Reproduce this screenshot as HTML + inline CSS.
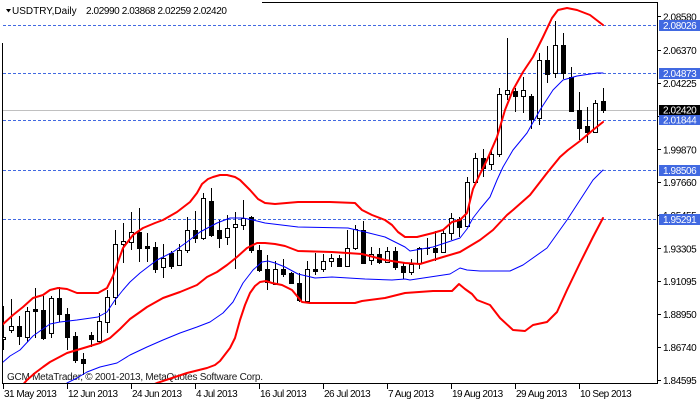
<!DOCTYPE html>
<html>
<head>
<meta charset="utf-8">
<style>
html,body{margin:0;padding:0;background:#fff;}
svg{display:block;}
text{font-family:"Liberation Sans",Arial,sans-serif;font-size:10px;}
.ax{letter-spacing:-0.4px;fill:#000;}
.dt{letter-spacing:-0.5px;fill:#000;}
.bx{letter-spacing:-0.4px;fill:#fff;}
</style>
</head>
<body>
<svg width="700" height="402" viewBox="0 0 700 402" xmlns="http://www.w3.org/2000/svg">
<defs>
<clipPath id="plot"><rect x="3" y="3" width="654" height="380"/></clipPath>
</defs>
<rect x="0" y="0" width="700" height="402" fill="#fff"/>

<!-- horizontal lines -->
<g shape-rendering="crispEdges">
<line x1="3" y1="25.5" x2="657" y2="25.5" stroke="#4169E1" stroke-width="1" stroke-dasharray="3,2"/>
<line x1="3" y1="73.5" x2="657" y2="73.5" stroke="#4169E1" stroke-width="1" stroke-dasharray="3,2"/>
<line x1="3" y1="120.5" x2="657" y2="120.5" stroke="#4169E1" stroke-width="1" stroke-dasharray="3,2"/>
<line x1="3" y1="170.5" x2="657" y2="170.5" stroke="#4169E1" stroke-width="1" stroke-dasharray="3,2"/>
<line x1="3" y1="219.5" x2="657" y2="219.5" stroke="#4169E1" stroke-width="1" stroke-dasharray="3,2"/>
<line x1="3" y1="110.5" x2="657" y2="110.5" stroke="#C0C0C0" stroke-width="1"/>
</g>

<!-- watermark -->
<text x="7" y="380" fill="#1a1a1a" textLength="256" lengthAdjust="spacing">GCM MetaTrader, © 2001-2013, MetaQuotes Software Corp.</text>

<!-- candles -->
<g clip-path="url(#plot)" shape-rendering="crispEdges">
<g fill="#000">
<rect x="3" y="306" width="1" height="44"/><rect x="1" y="337" width="5" height="3"/>
<rect x="11" y="299" width="1" height="34"/><rect x="9" y="326" width="5" height="5"/>
<rect x="19" y="316" width="1" height="29"/><rect x="17" y="326" width="5" height="11"/>
<rect x="27" y="307" width="1" height="35"/><rect x="25" y="311" width="5" height="27"/>
<rect x="35" y="288" width="1" height="50"/><rect x="33" y="309" width="5" height="3"/>
<rect x="43" y="296" width="1" height="44"/><rect x="41" y="310" width="5" height="29"/>
<rect x="51" y="296" width="1" height="42"/><rect x="49" y="298" width="5" height="36"/>
<rect x="59" y="287" width="1" height="35"/><rect x="57" y="298" width="5" height="17"/>
<rect x="67" y="308" width="1" height="42"/><rect x="65" y="314" width="5" height="24"/>
<rect x="75" y="332" width="1" height="31"/><rect x="73" y="336" width="5" height="25"/>
<rect x="83" y="353" width="1" height="22"/><rect x="81" y="359" width="5" height="5"/>
<rect x="91" y="332" width="1" height="15"/><rect x="89" y="335" width="5" height="5"/>
<rect x="99" y="313" width="1" height="30"/><rect x="97" y="321" width="5" height="21"/>
<rect x="107" y="290" width="1" height="43"/><rect x="105" y="297" width="5" height="26"/>
<rect x="115" y="230" width="1" height="75"/><rect x="113" y="244" width="5" height="54"/>
<rect x="123" y="223" width="1" height="40"/><rect x="121" y="241" width="5" height="4"/>
<rect x="131" y="212" width="1" height="38"/><rect x="129" y="232" width="5" height="11"/>
<rect x="139" y="208" width="1" height="54"/><rect x="137" y="232" width="5" height="17"/>
<rect x="147" y="233" width="1" height="29"/><rect x="145" y="246" width="5" height="3"/>
<rect x="155" y="242" width="1" height="31"/><rect x="153" y="247" width="5" height="23"/>
<rect x="163" y="244" width="1" height="34"/><rect x="161" y="258" width="5" height="10"/>
<rect x="171" y="251" width="1" height="18"/><rect x="169" y="253" width="5" height="14"/>
<rect x="179" y="244" width="1" height="22"/><rect x="177" y="250" width="5" height="16"/>
<rect x="187" y="217" width="1" height="36"/><rect x="185" y="230" width="5" height="21"/>
<rect x="195" y="211" width="1" height="32"/><rect x="193" y="230" width="5" height="9"/>
<rect x="203" y="193" width="1" height="47"/><rect x="201" y="198" width="5" height="41"/>
<rect x="211" y="188" width="1" height="49"/><rect x="209" y="201" width="5" height="35"/>
<rect x="219" y="220" width="1" height="28"/><rect x="217" y="230" width="5" height="9"/>
<rect x="227" y="215" width="1" height="30"/><rect x="225" y="228" width="5" height="10"/>
<rect x="235" y="212" width="1" height="57"/><rect x="233" y="224" width="5" height="4"/>
<rect x="243" y="200" width="1" height="30"/><rect x="241" y="218" width="5" height="8"/>
<rect x="251" y="216" width="1" height="37"/><rect x="249" y="217" width="5" height="34"/>
<rect x="259" y="245" width="1" height="27"/><rect x="257" y="250" width="5" height="21"/>
<rect x="267" y="255" width="1" height="35"/><rect x="265" y="269" width="5" height="14"/>
<rect x="275" y="261" width="1" height="24"/><rect x="273" y="269" width="5" height="16"/>
<rect x="283" y="259" width="1" height="18"/><rect x="281" y="269" width="5" height="6"/>
<rect x="291" y="272" width="1" height="12"/><rect x="289" y="273" width="5" height="11"/>
<rect x="299" y="273" width="1" height="29"/><rect x="297" y="283" width="5" height="18"/>
<rect x="307" y="261" width="1" height="41"/><rect x="305" y="269" width="5" height="33"/>
<rect x="315" y="253" width="1" height="22"/><rect x="313" y="269" width="5" height="3"/>
<rect x="323" y="254" width="1" height="18"/><rect x="321" y="261" width="5" height="9"/>
<rect x="331" y="254" width="1" height="13"/><rect x="329" y="258" width="5" height="4"/>
<rect x="339" y="255" width="1" height="12"/><rect x="337" y="258" width="5" height="9"/>
<rect x="347" y="230" width="1" height="37"/><rect x="345" y="248" width="5" height="19"/>
<rect x="355" y="225" width="1" height="25"/><rect x="353" y="229" width="5" height="20"/>
<rect x="363" y="221" width="1" height="43"/><rect x="361" y="230" width="5" height="34"/>
<rect x="371" y="247" width="1" height="18"/><rect x="369" y="254" width="5" height="7"/>
<rect x="379" y="248" width="1" height="16"/><rect x="377" y="254" width="5" height="9"/>
<rect x="387" y="247" width="1" height="16"/><rect x="385" y="251" width="5" height="12"/>
<rect x="395" y="247" width="1" height="23"/><rect x="393" y="251" width="5" height="17"/>
<rect x="403" y="262" width="1" height="17"/><rect x="401" y="266" width="5" height="7"/>
<rect x="411" y="259" width="1" height="16"/><rect x="409" y="264" width="5" height="9"/>
<rect x="419" y="247" width="1" height="22"/><rect x="417" y="248" width="5" height="16"/>
<rect x="427" y="238" width="1" height="17"/><rect x="425" y="248" width="5" height="1"/>
<rect x="435" y="231" width="1" height="30"/><rect x="433" y="248" width="5" height="5"/>
<rect x="443" y="230" width="1" height="23"/><rect x="441" y="233" width="5" height="20"/>
<rect x="451" y="213" width="1" height="27"/><rect x="449" y="218" width="5" height="16"/>
<rect x="459" y="217" width="1" height="20"/><rect x="457" y="219" width="5" height="9"/>
<rect x="467" y="177" width="1" height="50"/><rect x="465" y="182" width="5" height="45"/>
<rect x="475" y="153" width="1" height="30"/><rect x="473" y="158" width="5" height="25"/>
<rect x="483" y="149" width="1" height="28"/><rect x="481" y="158" width="5" height="11"/>
<rect x="491" y="149" width="1" height="21"/><rect x="489" y="154" width="5" height="11"/>
<rect x="499" y="88" width="1" height="69"/><rect x="497" y="94" width="5" height="61"/>
<rect x="507" y="38" width="1" height="62"/><rect x="505" y="90" width="5" height="5"/>
<rect x="515" y="88" width="1" height="24"/><rect x="513" y="91" width="5" height="6"/>
<rect x="523" y="77" width="1" height="36"/><rect x="521" y="90" width="5" height="7"/>
<rect x="531" y="94" width="1" height="35"/><rect x="529" y="96" width="5" height="24"/>
<rect x="539" y="53" width="1" height="72"/><rect x="537" y="60" width="5" height="59"/>
<rect x="547" y="46" width="1" height="37"/><rect x="545" y="60" width="5" height="15"/>
<rect x="555" y="21" width="1" height="57"/><rect x="553" y="45" width="5" height="29"/>
<rect x="563" y="33" width="1" height="46"/><rect x="561" y="45" width="5" height="29"/>
<rect x="571" y="67" width="1" height="45"/><rect x="569" y="77" width="5" height="35"/>
<rect x="579" y="92" width="1" height="48"/><rect x="577" y="110" width="5" height="19"/>
<rect x="587" y="107" width="1" height="36"/><rect x="585" y="126" width="5" height="7"/>
<rect x="595" y="100" width="1" height="33"/><rect x="593" y="103" width="5" height="30"/>
<rect x="603" y="88" width="1" height="25"/><rect x="601" y="101" width="5" height="10"/>
</g>
<g fill="#fff">
<rect x="2" y="338" width="3" height="1"/>
<rect x="10" y="327" width="3" height="3"/>
<rect x="26" y="312" width="3" height="25"/>
<rect x="50" y="299" width="3" height="34"/>
<rect x="98" y="322" width="3" height="19"/>
<rect x="106" y="298" width="3" height="24"/>
<rect x="114" y="245" width="3" height="52"/>
<rect x="122" y="242" width="3" height="2"/>
<rect x="130" y="233" width="3" height="9"/>
<rect x="162" y="259" width="3" height="8"/>
<rect x="178" y="251" width="3" height="14"/>
<rect x="186" y="231" width="3" height="19"/>
<rect x="202" y="199" width="3" height="39"/>
<rect x="226" y="229" width="3" height="8"/>
<rect x="234" y="225" width="3" height="2"/>
<rect x="242" y="219" width="3" height="6"/>
<rect x="274" y="270" width="3" height="14"/>
<rect x="306" y="270" width="3" height="31"/>
<rect x="322" y="262" width="3" height="7"/>
<rect x="330" y="259" width="3" height="2"/>
<rect x="346" y="249" width="3" height="17"/>
<rect x="354" y="230" width="3" height="18"/>
<rect x="370" y="255" width="3" height="5"/>
<rect x="386" y="252" width="3" height="10"/>
<rect x="410" y="265" width="3" height="7"/>
<rect x="418" y="249" width="3" height="14"/>
<rect x="442" y="234" width="3" height="18"/>
<rect x="450" y="219" width="3" height="14"/>
<rect x="466" y="183" width="3" height="43"/>
<rect x="474" y="159" width="3" height="23"/>
<rect x="490" y="155" width="3" height="9"/>
<rect x="498" y="95" width="3" height="59"/>
<rect x="506" y="91" width="3" height="3"/>
<rect x="522" y="91" width="3" height="5"/>
<rect x="538" y="61" width="3" height="57"/>
<rect x="554" y="46" width="3" height="27"/>
<rect x="594" y="104" width="3" height="28"/>
</g>
</g>

<!-- bands -->
<g clip-path="url(#plot)" fill="none" stroke-linejoin="round" stroke-linecap="round">
<polyline stroke="#0000FF" stroke-width="1" points="2,363 10,356 20,350 33,336 40,331 50,324 60,322 77,320 98,317 107,312 115,300 123,290 130,282 140,273 157,260 173,252 187,242 200,232 217,223 230,218 243,218 253,220 265,223 298,227 348,228 365,232 385,237 395,242 405,247 410,251 433,247 460,238 467,229 473,218 480,209 490,197 497,180 503,167 513,150 527,133 540,110 553,90 563,80 577,76 597,73 603,73"/>
<polyline stroke="#0000FF" stroke-width="1" points="60,388 67,383 77,378 87,372 100,367 117,363 130,355 147,347 163,340 180,333 197,327 210,322 223,313 233,302 243,283 253,270 262,262 268,261 275,263 285,267 298,274 315,278 332,277 365,279 392,280 405,279 410,280 450,274 460,268 467,270 480,271 510,271 523,265 547,248 567,220 580,200 593,180 603,170"/>
<polyline stroke="#FF0000" stroke-width="2" points="2,325 13,315 23,307 33,298 43,295 50,290 58,288 67,289 77,293 98,293 107,288 113,276 118,262 123,248 133,235 143,228 155,223 163,220 177,212 190,202 197,193 202,184 208,179 213,177 220,175 227,175 235,177 240,180 250,190 258,199 265,203 275,204 298,202 330,202 355,203 362,210 372,215 385,220 392,225 398,232 405,237 417,237 433,233 443,230 452,222 460,220 467,213 473,189 480,174 487,160 497,137 500,127 505,110 513,90 523,72 533,57 543,37 552,18 558,10 567,8 577,10 590,15 603,25"/>
<polyline stroke="#FF0000" stroke-width="2" points="20,388 27,380 35,373 43,367 50,362 67,353 77,350 87,347 100,343 110,338 120,329 130,319 140,312 147,307 163,298 180,292 197,285 207,277 217,272 227,265 237,257 247,248 257,243 265,243 275,244 285,246 298,251 332,252 362,254 385,260 405,263 420,264 443,257 460,252 480,240 493,230 507,215 513,210 530,195 547,173 560,157 568,150 580,141 593,130 603,122"/>
<polyline stroke="#FF0000" stroke-width="2" points="145,388 157,383 187,373 207,368 215,365 220,361 230,348 235,338 240,320 245,305 250,293 255,286 260,282 266,281 272,283 282,285 292,290 302,302 310,303 355,303 362,301 385,298 405,293 433,291 452,291 459,284 465,289 472,294 477,300 490,305 500,318 513,330 525,331 533,325 547,322 557,312 567,290 580,263 593,237 603,218"/>
</g>

<!-- frame -->
<g fill="#000" shape-rendering="crispEdges">
<rect x="2" y="43" width="1" height="341"/>
<rect x="2" y="383" width="656" height="1"/>
<rect x="657" y="2" width="1" height="382"/>
<rect x="262" y="2" width="396" height="1"/>
<!-- right ticks -->
<rect x="658" y="16" width="3" height="1"/>
<rect x="658" y="50" width="3" height="1"/>
<rect x="658" y="83" width="3" height="1"/>
<rect x="658" y="116" width="3" height="1"/>
<rect x="658" y="149" width="3" height="1"/>
<rect x="658" y="182" width="3" height="1"/>
<rect x="658" y="215" width="3" height="1"/>
<rect x="658" y="248" width="3" height="1"/>
<rect x="658" y="281" width="3" height="1"/>
<rect x="658" y="314" width="3" height="1"/>
<rect x="658" y="347" width="3" height="1"/>
<rect x="658" y="380" width="3" height="1"/>
<!-- bottom ticks -->
<rect x="3" y="384" width="1" height="5"/>
<rect x="67" y="384" width="1" height="5"/>
<rect x="131" y="384" width="1" height="5"/>
<rect x="195" y="384" width="1" height="5"/>
<rect x="259" y="384" width="1" height="5"/>
<rect x="323" y="384" width="1" height="5"/>
<rect x="387" y="384" width="1" height="5"/>
<rect x="451" y="384" width="1" height="5"/>
<rect x="515" y="384" width="1" height="5"/>
<rect x="579" y="384" width="1" height="5"/>
</g>

<!-- right axis labels -->
<text class="ax" x="663" y="20.5">2.08580</text>
<text class="ax" x="663" y="54">2.06370</text>
<text class="ax" x="663" y="87">2.04225</text>
<text class="ax" x="663" y="120">2.02015</text>
<text class="ax" x="663" y="153.5">1.99870</text>
<text class="ax" x="663" y="186">1.97660</text>
<text class="ax" x="663" y="219">1.95455</text>
<text class="ax" x="663" y="252.5">1.93305</text>
<text class="ax" x="663" y="285">1.91095</text>
<text class="ax" x="663" y="318">1.88950</text>
<text class="ax" x="663" y="351">1.86740</text>
<text class="ax" x="663" y="384">1.84595</text>

<!-- price boxes -->
<g shape-rendering="crispEdges">
<rect x="659" y="20" width="41" height="11" fill="#4169E1"/>
<rect x="659" y="68" width="41" height="11" fill="#4169E1"/>
<rect x="659" y="105" width="41" height="10" fill="#000"/>
<rect x="659" y="115" width="41" height="10" fill="#4169E1"/>
<rect x="659" y="165" width="41" height="11" fill="#4169E1"/>
<rect x="659" y="214" width="41" height="11" fill="#4169E1"/>
</g>
<text class="bx" x="663" y="29">2.08026</text>
<text class="bx" x="663" y="77">2.04873</text>
<text class="bx" x="663" y="113.5">2.02420</text>
<text class="bx" x="663" y="123.5">2.01844</text>
<text class="bx" x="663" y="174">1.98506</text>
<text class="bx" x="663" y="223">1.95291</text>

<!-- date labels -->
<text class="dt" x="4" y="397">31 May 2013</text>
<text class="dt" x="68" y="397">12 Jun 2013</text>
<text class="dt" x="132" y="397">24 Jun 2013</text>
<text class="dt" x="196" y="397">4 Jul 2013</text>
<text class="dt" x="260" y="397">16 Jul 2013</text>
<text class="dt" x="324" y="397">26 Jul 2013</text>
<text class="dt" x="388" y="397">7 Aug 2013</text>
<text class="dt" x="452" y="397">19 Aug 2013</text>
<text class="dt" x="516" y="397">29 Aug 2013</text>
<text class="dt" x="580" y="397">10 Sep 2013</text>

<!-- header -->
<polygon points="6,9 11,9 8.5,12.5" fill="#000"/>
<text x="12" y="14" fill="#000">USDTRY,Daily</text>
<text class="ax" x="86" y="14">2.02990 2.03868 2.02259 2.02420</text>
</svg>
</body>
</html>
